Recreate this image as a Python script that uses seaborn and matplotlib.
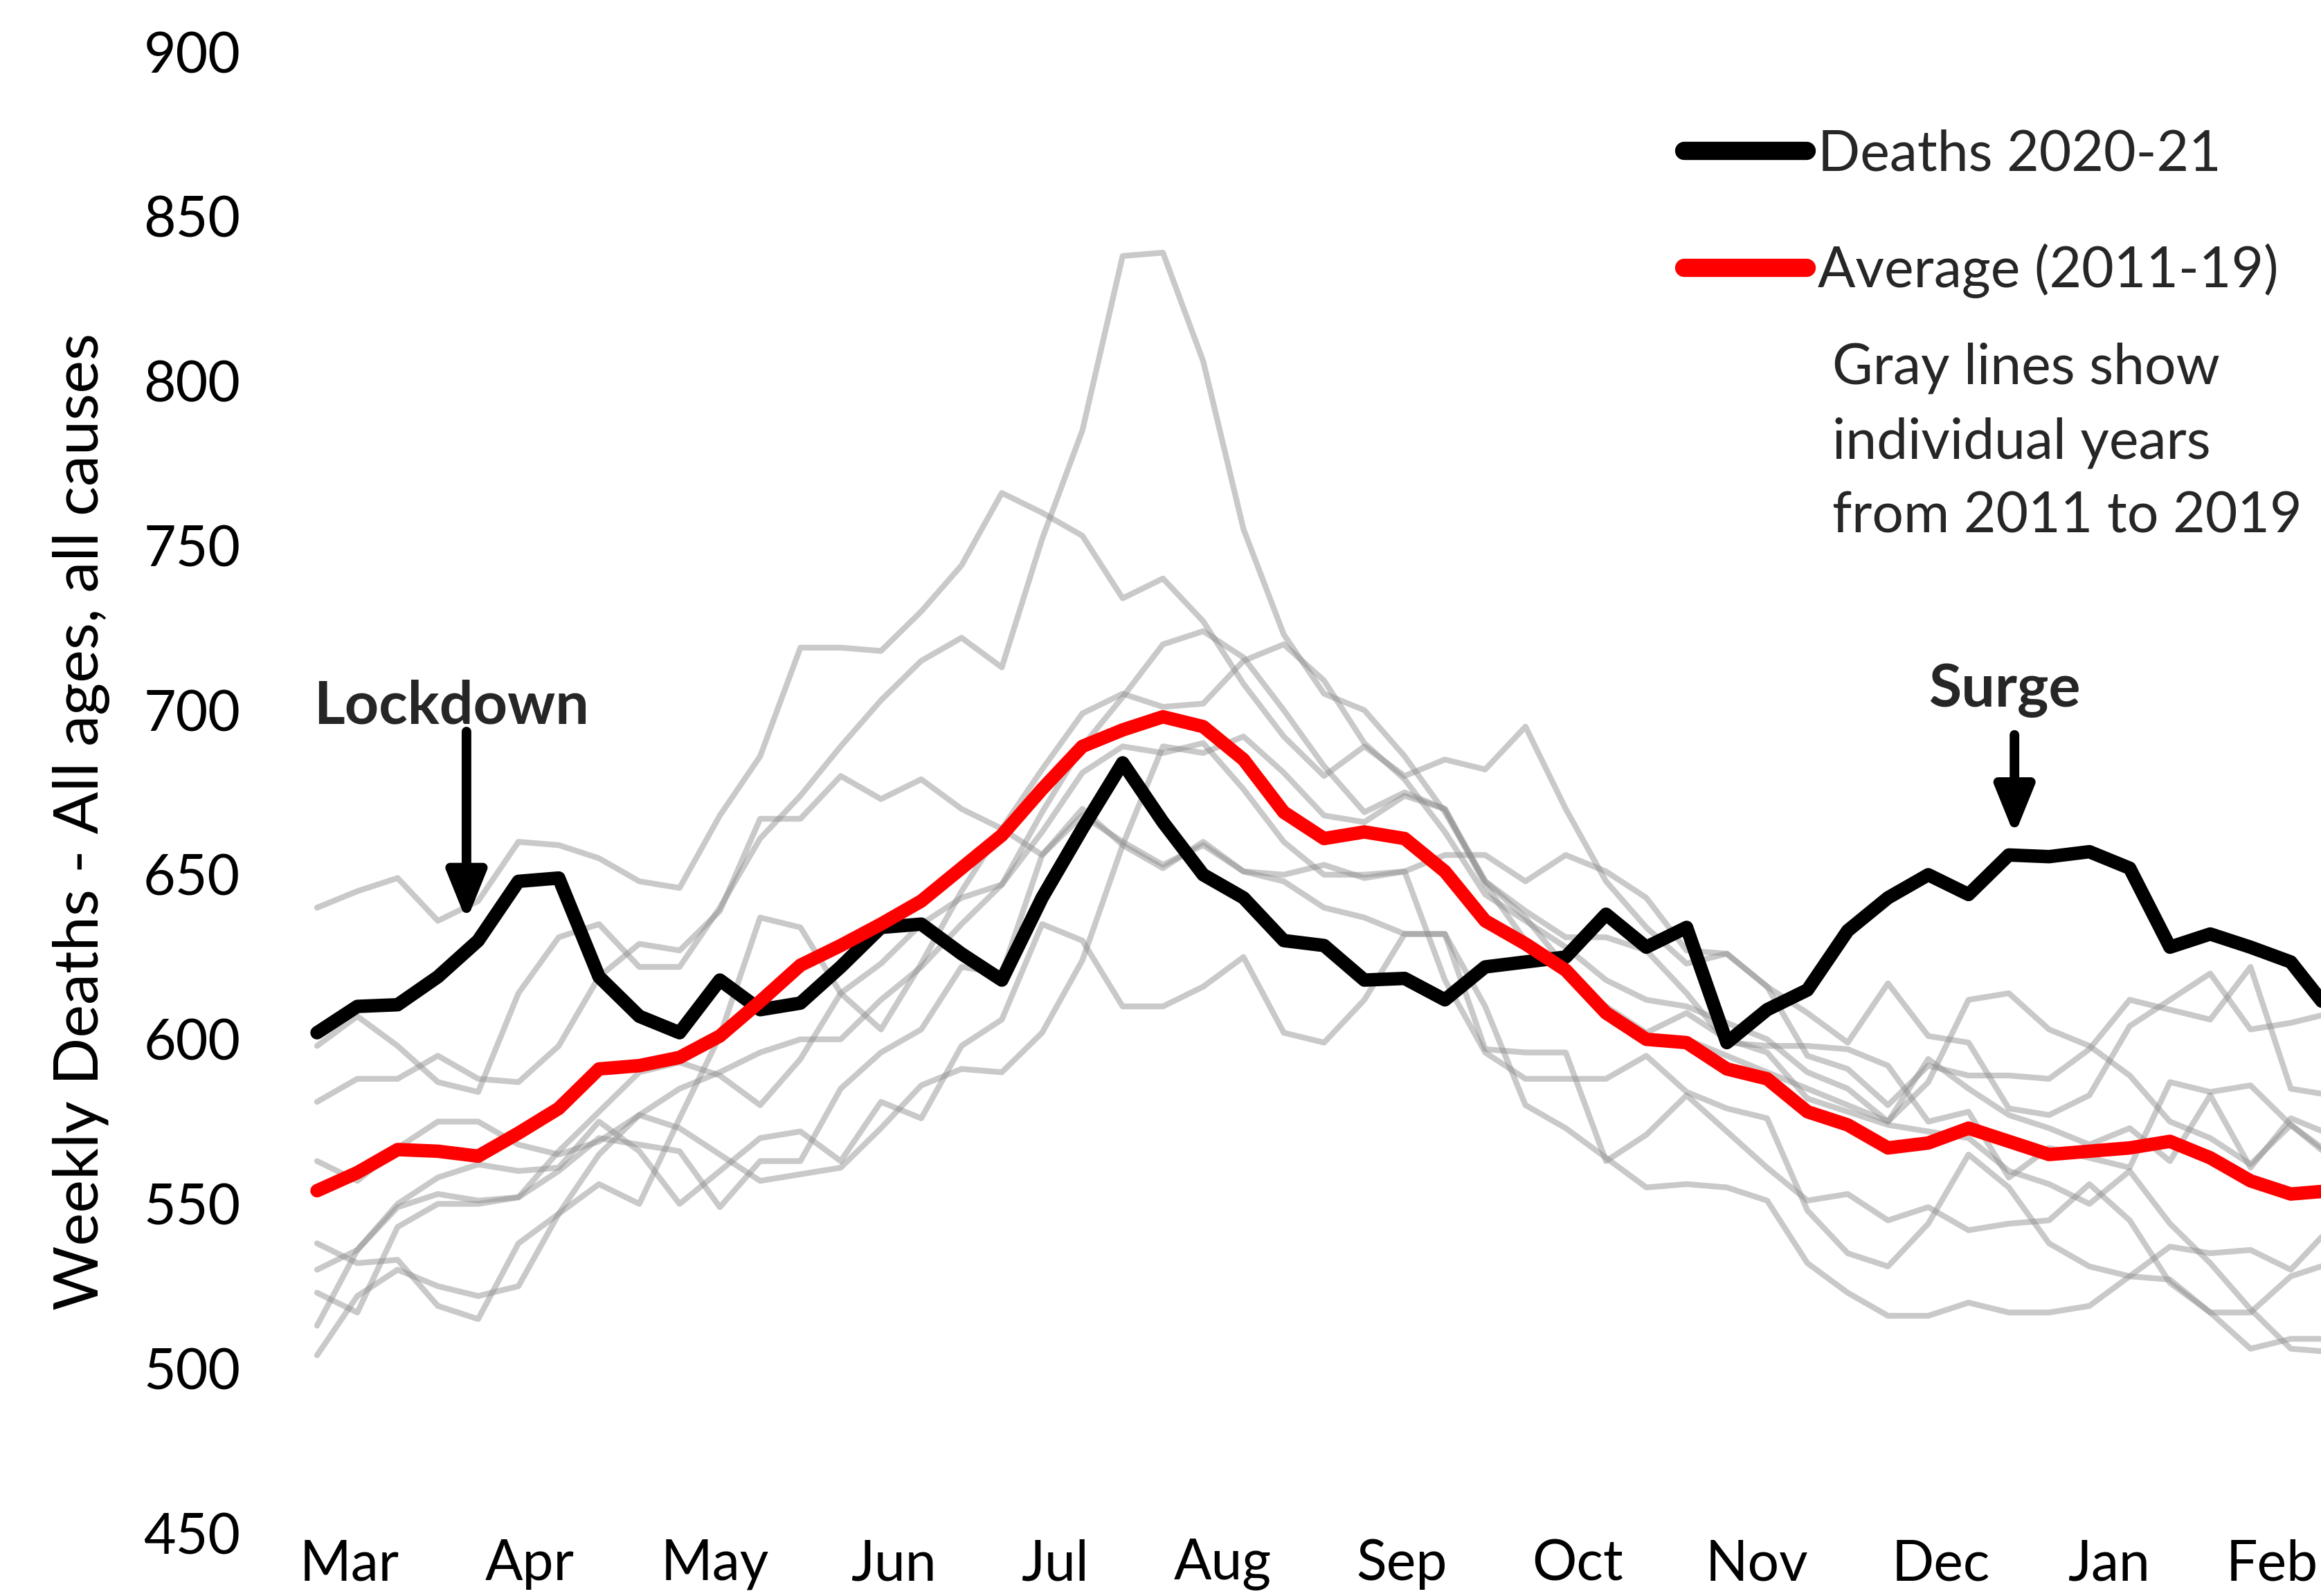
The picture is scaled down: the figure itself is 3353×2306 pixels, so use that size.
import matplotlib
matplotlib.use("Agg")
import matplotlib.pyplot as plt
import seaborn as sns
import pandas as pd
from matplotlib.lines import Line2D

# ---------------- data ----------------
weeks = list(range(51))

deaths_2020_21 = [602, 610, 610.5, 619, 630, 648, 649, 619, 607, 602,
                  618, 609, 611, 622, 634, 635, 626, 618, 643, 664,
                  684, 666, 650, 643, 630, 628.5, 618, 618.5, 612, 622,
                  623.5, 625, 638, 628, 634, 599, 609, 615, 633, 643,
                  650, 644, 656, 655.5, 657, 652, 628, 632, 628, 623.5, 608]

average_2011_19 = [554, 559.5, 566.5, 566, 564.5, 571.5, 579, 591, 592, 594.5,
                   601, 611.5, 622.5, 628.5, 635, 642, 652, 662, 676, 689,
                   694, 698, 695, 685, 669, 661, 663, 661, 651, 636,
                   629, 621, 608, 600, 599, 591, 588, 578, 574, 567,
                   568.5, 573, 569, 565, 566, 567, 569, 564, 557, 553, 554]

gray_1 = [640, 645, 649, 636, 642, 660, 659, 655, 648,
          646, 668, 686, 719, 719, 718, 730, 744,
          766, 760, 753, 734, 740, 727, 708, 692,
          680, 689, 680, 685, 682, 695, 670, 648, 634,
          623, 626, 616, 595, 591, 580, 592,
          589, 589, 588, 597, 612, 609, 606, 622, 585, 583]
gray_2 = [598, 607, 598, 587, 584, 614, 631, 635, 622,
          622, 640, 661, 674, 689, 703, 715, 722,
          713, 752, 785, 838, 839, 806, 755, 723,
          705, 700, 686, 669, 648, 639, 631, 631, 627,
          614, 599, 598, 598, 597, 592, 575,
          578, 558, 567, 564, 561, 587, 584, 586, 574, 564]
gray_3 = [581, 588, 588, 595, 588, 587, 598, 619, 629,
          627, 639, 667, 667, 680, 673, 679, 670,
          664, 656, 670, 659, 652, 660, 651, 650,
          653, 649, 651, 656, 656, 648, 656, 651, 643,
          627, 626, 616, 608, 599, 617, 601,
          599, 579, 577, 583, 604, 612, 620, 603, 605, 608]
gray_4 = [563, 557, 567, 575, 575, 568, 565, 569, 577,
          573, 565, 557, 559, 561, 573, 586, 591,
          590, 602, 624, 659, 689, 687, 692, 681,
          668, 666, 674, 670, 647, 630, 620, 610, 602,
          608, 600, 596, 582, 578, 574, 572,
          570, 560, 556, 550, 560, 544, 532, 518, 506, 505]
gray_5 = [538, 532, 533, 519, 515, 538, 547, 556, 550,
          576, 601, 637, 634, 614, 603, 623, 645,
          664, 682, 699, 705, 701, 702, 715, 720,
          709, 690, 679, 663, 644, 636, 628, 618, 612,
          610, 605, 600, 590, 585, 575, 587,
          612, 614, 603, 598, 589, 575, 570, 562, 574, 565]
gray_6 = [530, 536, 549, 553, 551, 552, 560, 570, 568,
          566, 549, 563, 563, 585, 596, 603, 622,
          620, 656, 668, 660, 653, 659, 651, 648,
          640, 637, 632, 632, 597, 596, 596, 563, 571,
          583, 572, 561, 551, 553, 545, 549,
          542, 544, 545, 556, 545, 526, 517, 517, 528, 532]
gray_7 = [523, 517, 543, 550, 550, 552, 566, 578, 590,
          593, 589, 580, 594, 614, 623, 635, 643,
          647, 663, 681, 689, 687, 690, 676, 660,
          650, 650, 651, 618, 596, 588, 588, 588, 595,
          584, 579, 576, 548, 535, 531, 544,
          565, 555, 538, 531, 528, 537, 535, 536, 530, 543]
gray_8 = [513, 536, 550, 558, 562, 560, 561, 575, 566,
          550, 560, 570, 572, 563, 581, 576, 598,
          606, 635, 630, 610, 610, 616, 625, 602,
          599, 612, 632, 632, 610, 580, 573, 564, 555,
          556, 555, 551, 532, 523, 516, 516,
          520, 517, 517, 519, 528, 527, 517, 506, 509, 509]
gray_9 = [504, 522, 530, 525, 522, 525, 547, 565, 577,
          585, 590, 596, 600, 600, 612, 622, 635,
          647, 669, 689, 704, 720, 724, 716, 700,
          683, 669, 675, 670, 648, 637, 622, 609, 600,
          600, 595, 590, 585, 580, 575, 594,
          585, 577, 573, 568, 573, 563, 583, 561, 576, 571]

gray_series = [gray_1, gray_2, gray_3, gray_4, gray_5, gray_6, gray_7, gray_8, gray_9]

month_labels = ["Mar", "Apr", "May", "Jun", "Jul", "Aug", "Sep", "Oct", "Nov", "Dec", "Jan", "Feb"]
month_ticks = [0.80, 5.28, 9.88, 14.33, 18.33, 22.48, 26.93, 31.30, 35.75, 40.31, 44.50, 48.54]
y_ticks = [450, 500, 550, 600, 650, 700, 750, 800, 850, 900]

# ---------------- style ----------------
sns.set_theme(style="white")
plt.rcParams['font.family'] = ['Lato', 'DejaVu Sans']

W, H, DPI = 3353, 2306, 200
fig = plt.figure(figsize=(W / DPI, H / DPI), dpi=DPI)
ax = fig.add_axes([400 / W, 91 / H, 2953 / W, 2140 / H])

gray_df = pd.DataFrame({
    "week": [w for _ in gray_series for w in weeks],
    "deaths": [v for s in gray_series for v in s],
    "line": [i for i, s in enumerate(gray_series) for _ in s],
})
sns.lineplot(data=gray_df, x="week", y="deaths", units="line", estimator=None,
             color="#8f8f8f", alpha=0.48, linewidth=3.0, ax=ax, legend=False)
sns.lineplot(x=weeks, y=deaths_2020_21, color="black", linewidth=7, ax=ax,
             solid_capstyle="round")
sns.lineplot(x=weeks, y=average_2011_19, color="#ff0000", linewidth=7, ax=ax,
             solid_capstyle="round")

ax.set_xlim(-0.997, 49.75)
ax.set_ylim(450, 900)
ax.set_yticks(y_ticks)
ax.set_xticks(month_ticks, month_labels)
ax.tick_params(axis="both", length=0, labelsize=29, labelcolor="black")
ax.tick_params(axis="y", pad=19)
ax.tick_params(axis="x", pad=3)
for s in ax.spines.values():
    s.set_visible(False)
ax.set_xlabel("")
ax.set_ylabel("Weekly Deaths - All ages, all causes", fontsize=32.5, color="black")
ax.yaxis.set_label_coords(-0.0955, 0.4804)
ax.yaxis.label.set_verticalalignment("center")

# legend
handles = [Line2D([], [], color="black", lw=9.5, solid_capstyle="round"),
           Line2D([], [], color="#ff0000", lw=9.5, solid_capstyle="round")]
leg = ax.legend(handles, ["Deaths 2020-21", "Average (2011-19)"], loc="upper left",
                bbox_to_anchor=(0.6885, 0.948), frameon=False, fontsize=29,
                handlelength=2.2, handletextpad=0.2, labelspacing=1.14,
                borderpad=0, borderaxespad=0)
for t in leg.get_texts():
    t.set_color("#262626")

ax.text(0.761, 0.7363, "Gray lines show\nindividual years\nfrom 2011 to 2019",
        transform=ax.transAxes, ha="left", va="center", fontsize=29,
        linespacing=1.55, color="#262626")

# annotations
arrow_kw = dict(arrowstyle="-|>,head_length=0.42,head_width=0.17", color="black",
                lw=5, mutation_scale=50, shrinkA=0, shrinkB=0)
ax.text(3.33, 701, "Lockdown", ha="center", va="center", fontsize=31,
        fontweight="bold", color="#262626")
ax.annotate("", xy=(3.71, 636), xytext=(3.71, 693.5), arrowprops=arrow_kw)
ax.text(41.9, 706, "Surge", ha="center", va="center", fontsize=31,
        fontweight="bold", color="#262626")
ax.annotate("", xy=(42.14, 662), xytext=(42.14, 692.5), arrowprops=arrow_kw)

fig.savefig("out.png", dpi=DPI)
